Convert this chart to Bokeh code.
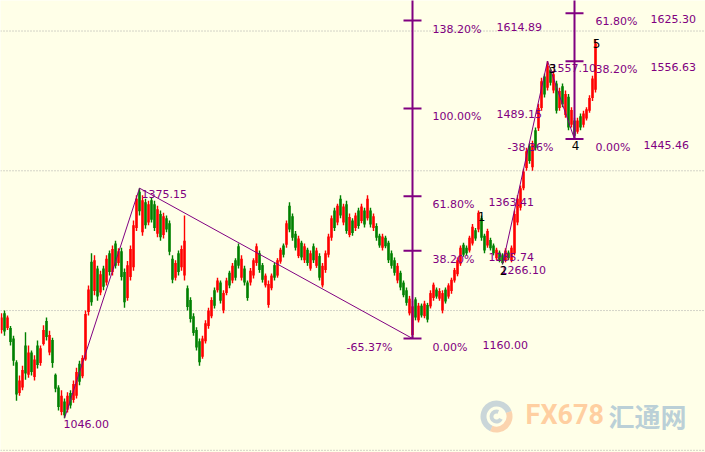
from bokeh.plotting import figure
from bokeh.models import Range1d, Span
from bokeh.core.properties import value
from bokeh.embed import file_html
from bokeh.resources import INLINE

# ---------------- data ----------------
opens = [1172, 1196, 1175, 1175, 1160, 1126, 1082, 1090, 1150, 1108,
         1140, 1105, 1150, 1125, 1152, 1185, 1140, 1158, 1108, 1090,
         1055, 1070, 1058, 1082, 1072, 1078, 1124, 1106, 1130, 1198,
         1270, 1228, 1260, 1226, 1260, 1240, 1282, 1255, 1296, 1268,
         1285, 1255, 1218, 1248, 1262, 1318, 1370, 1312, 1355, 1326,
         1358, 1352, 1310, 1338, 1308, 1332, 1325, 1274, 1247, 1282,
         1262, 1250, 1232, 1215, 1192, 1172, 1156, 1134, 1156, 1178,
         1192, 1229, 1229, 1240, 1200, 1225, 1254, 1243, 1272, 1292,
         1247, 1260, 1240, 1240, 1250, 1268, 1282, 1265, 1236, 1208,
         1232, 1265, 1250, 1270, 1293, 1294, 1350, 1335, 1310, 1278,
         1297, 1272, 1287, 1260, 1292, 1264, 1278, 1236, 1258, 1280,
         1304, 1343, 1326, 1360, 1326, 1352, 1308, 1329, 1318, 1343,
         1328, 1343, 1332, 1343, 1318, 1321, 1307, 1290, 1304, 1297,
         1282, 1272, 1243, 1254, 1240, 1229, 1196, 1165, 1216, 1186,
         1207, 1192, 1208, 1206, 1218, 1230, 1217, 1200, 1230, 1220,
         1228, 1243, 1252, 1267, 1294, 1290, 1286, 1296, 1315, 1316,
         1332, 1307, 1293, 1301, 1293, 1275, 1283, 1279, 1272, 1283,
         1272, 1282, 1326, 1347, 1375, 1404, 1435, 1405, 1458, 1461,
         1490, 1535, 1519, 1545, 1515, 1525, 1490, 1521, 1480, 1506,
         1466, 1472, 1456, 1478, 1466, 1475, 1486, 1504, 1516]
highs = [1196, 1200, 1193, 1178, 1164, 1129, 1107, 1121, 1169, 1150,
         1143, 1136, 1157, 1150, 1179, 1190, 1171, 1161, 1110, 1093,
         1086, 1074, 1083, 1086, 1100, 1118, 1128, 1136, 1200, 1236,
         1282, 1279, 1264, 1257, 1264, 1279, 1286, 1293, 1300, 1289,
         1290, 1260, 1271, 1293, 1329, 1365, 1375.15, 1365, 1360, 1357,
         1362, 1357, 1350, 1343, 1340, 1336, 1329, 1279, 1272, 1286,
         1293, 1336, 1236, 1219, 1196, 1176, 1160, 1164, 1186, 1204,
         1219, 1233, 1247, 1243, 1229, 1247, 1257, 1268, 1275, 1296,
         1279, 1264, 1243, 1261, 1275, 1296, 1286, 1268, 1253, 1243,
         1253, 1268, 1275, 1290, 1296, 1329, 1355, 1339, 1314, 1307,
         1300, 1296, 1290, 1286, 1296, 1290, 1282, 1268, 1286, 1310,
         1336, 1347, 1353, 1365, 1353, 1357, 1339, 1332, 1340, 1347,
         1353, 1347, 1365, 1347, 1339, 1325, 1310, 1310, 1307, 1300,
         1286, 1276, 1268, 1257, 1243, 1233, 1221, 1214, 1219, 1211,
         1210, 1214, 1211, 1229, 1240, 1233, 1232, 1229, 1233, 1239,
         1247, 1261, 1276, 1293, 1297, 1293, 1307, 1324, 1318, 1343,
         1336, 1310, 1317, 1304, 1296, 1290, 1286, 1282, 1289, 1286,
         1293, 1343, 1365, 1379, 1403, 1433, 1439, 1443, 1462, 1496,
         1533, 1539, 1557.10, 1548, 1543, 1529, 1519, 1525, 1515, 1510,
         1491, 1476, 1476, 1482, 1486, 1491, 1508, 1536, 1587]
lows = [1167, 1164, 1172, 1150, 1121, 1071, 1078, 1086, 1101, 1104,
        1107, 1100, 1117, 1121, 1150, 1157, 1136, 1118, 1083, 1057,
        1050, 1046.00, 1054, 1060, 1068, 1074, 1093, 1103, 1128, 1193,
        1207, 1222, 1214, 1222, 1229, 1236, 1250, 1250, 1260, 1264,
        1243, 1204, 1214, 1243, 1257, 1314, 1336, 1307, 1317, 1322,
        1326, 1314, 1305, 1300, 1303, 1312, 1279, 1239, 1243, 1250,
        1257, 1243, 1200, 1183, 1164, 1143, 1121, 1131, 1153, 1174,
        1189, 1203, 1226, 1210, 1196, 1222, 1232, 1239, 1243, 1260,
        1243, 1236, 1214, 1236, 1246, 1264, 1254, 1240, 1233, 1204,
        1229, 1243, 1247, 1267, 1276, 1290, 1312, 1300, 1286, 1275,
        1272, 1268, 1264, 1257, 1268, 1261, 1243, 1233, 1254, 1276,
        1300, 1314, 1322, 1332, 1322, 1310, 1305, 1307, 1314, 1317,
        1325, 1319, 1329, 1319, 1314, 1300, 1290, 1286, 1289, 1268,
        1260, 1250, 1239, 1229, 1219, 1207, 1193, 1160.00, 1186, 1183,
        1190, 1189, 1183, 1203, 1214, 1217, 1214, 1196, 1210, 1217,
        1224, 1240, 1249, 1264, 1277, 1279, 1283, 1293, 1300, 1312,
        1300, 1282, 1290, 1286, 1279, 1272, 1269, 1266.10, 1269, 1272,
        1269, 1279, 1322, 1343, 1372, 1400, 1410, 1400, 1429, 1457,
        1486, 1505, 1515, 1522, 1511, 1482, 1486, 1491, 1476, 1458,
        1462, 1445.46, 1453, 1458, 1462, 1472, 1483, 1500, 1512]
closes = [1190, 1170, 1190, 1155, 1128, 1080, 1100, 1115, 1110, 1140,
          1112, 1130, 1122, 1146, 1172, 1162, 1165, 1125, 1088, 1062,
          1078, 1050, 1078, 1064, 1095, 1112, 1098, 1132, 1195, 1230,
          1212, 1272, 1220, 1252, 1234, 1274, 1255, 1288, 1264, 1285,
          1248, 1212, 1265, 1288, 1322, 1360, 1342, 1358, 1322, 1352,
          1330, 1318, 1345, 1305, 1335, 1316, 1284, 1244, 1268, 1255,
          1288, 1300, 1205, 1188, 1168, 1147, 1126, 1160, 1182, 1200,
          1215, 1207, 1243, 1214, 1225, 1243, 1236, 1264, 1247, 1264,
          1274, 1240, 1218, 1257, 1272, 1292, 1258, 1244, 1250, 1238,
          1250, 1247, 1272, 1287, 1280, 1325, 1316, 1304, 1290, 1303,
          1276, 1292, 1268, 1282, 1272, 1286, 1247, 1264, 1282, 1306,
          1332, 1318, 1350, 1336, 1349, 1314, 1334, 1311, 1336, 1321,
          1349, 1323, 1360, 1323, 1335, 1304, 1293, 1306, 1292, 1272,
          1264, 1254, 1264, 1233, 1222, 1211, 1217, 1206, 1190, 1207,
          1193, 1210, 1187, 1225, 1237, 1220, 1228, 1225, 1213, 1236,
          1244, 1258, 1272, 1290, 1280, 1282, 1304, 1320, 1303, 1340,
          1304, 1286, 1314, 1289, 1282, 1287, 1272, 1268, 1286, 1275,
          1290, 1338, 1360, 1375, 1399, 1428, 1414, 1438, 1433, 1490,
          1528, 1509, 1550, 1526, 1538, 1486, 1514, 1495, 1510, 1462,
          1487, 1450, 1472, 1462, 1482, 1488, 1504, 1532, 1582]

# zigzag pivots (bar index, price)
wave_a_idx = [21, 46, 137]
wave_a_price = [1046.00, 1375.15, 1160.00]
wave_b_idx = [167, 182, 191]
wave_b_price = [1266.10, 1557.10, 1445.46]

# Fibonacci projection levels
fib_a_pct = ["0.00%", "38.20%", "61.80%", "100.00%", "138.20%"]
fib_a_price = [1160.00, 1285.74, 1363.41, 1489.15, 1614.89]
fib_b_pct = ["0.00%", "38.20%", "61.80%"]
fib_b_price = [1445.46, 1556.63, 1625.30]

# Elliott wave labels
wave_labels = ["1", "2", "3", "4", "5"]
wave_label_idx = [159, 167, 182, 191, 198]
wave_label_price = [1343, 1266.10, 1557.10, 1445.46, 1587]

grid_levels = [1000, 1200, 1400, 1600]

# ---------------- styling ----------------
BG = "#FFFFE8"
PURPLE = "#800080"
UP = "#FF0000"
DOWN = "#008000"
FONT = value("DejaVu Sans")

W, H = 705, 452
p = figure(width=W, height=H, output_backend="svg", toolbar_location=None,
           x_axis_location=None, y_axis_location=None,
           x_range=Range1d(-1 / 3, -1 / 3 + W / 3),
           y_range=Range1d(996.87, 1643.68),
           min_border=0, background_fill_color=BG, border_fill_color=BG)
p.outline_line_color = None
p.grid.visible = False

for g in grid_levels:
    p.add_layout(Span(location=g, dimension="width", line_color="#A8A8A8",
                      line_dash="1 2", line_width=1, level="underlay"))

idx = list(range(len(closes)))
colors = [UP if c >= o else DOWN for o, c in zip(opens, closes)]
tops = [max(o, c) for o, c in zip(opens, closes)]
bots = [min(o, c) for o, c in zip(opens, closes)]

p.segment(x0=idx, y0=lows, x1=idx, y1=highs, line_color=colors, line_width=1.4)
p.vbar(x=idx, width=0.85, top=tops, bottom=bots, fill_color=colors, line_color=None)

# zigzag lines
p.line(wave_a_idx, wave_a_price, line_color=PURPLE, line_width=1)
p.line(wave_b_idx, wave_b_price, line_color=PURPLE, line_width=1)

# fib tools
a_base = wave_a_idx[2]
b_base = wave_b_idx[2]
p.segment(x0=[a_base, b_base], y0=[fib_a_price[0], fib_b_price[0]],
          x1=[a_base, b_base], y1=[1700, 1700], line_color=PURPLE, line_width=2)
p.segment(x0=[a_base - 3] * len(fib_a_price), y0=fib_a_price,
          x1=[a_base + 3] * len(fib_a_price), y1=fib_a_price,
          line_color=PURPLE, line_width=2)
p.segment(x0=[b_base - 3] * len(fib_b_price), y0=fib_b_price,
          x1=[b_base + 3] * len(fib_b_price), y1=fib_b_price,
          line_color=PURPLE, line_width=2)

lab = dict(text_font=FONT, text_font_size="11px", text_color=PURPLE,
           text_baseline="top")
p.text(x=[a_base] * len(fib_a_pct), y=fib_a_price, text=fib_a_pct,
       x_offset=20, y_offset=2, text_align="left", **lab)
p.text(x=[a_base] * len(fib_a_pct), y=fib_a_price,
       text=["%.2f" % v for v in fib_a_price],
       x_offset=[70, 76, 76, 84, 84], y_offset=2, text_align="left", **lab)
p.text(x=[b_base] * len(fib_b_pct), y=fib_b_price, text=fib_b_pct,
       x_offset=21, y_offset=2, text_align="left", **lab)
p.text(x=[b_base] * len(fib_b_pct), y=fib_b_price,
       text=["%.2f" % v for v in fib_b_price],
       x_offset=[69, 76, 76], y_offset=2, text_align="left", **lab)

# retracement ratios
ra = (wave_a_price[1] - wave_a_price[2]) / (wave_a_price[1] - wave_a_price[0])
rb = (wave_b_price[1] - wave_b_price[2]) / (wave_b_price[1] - wave_b_price[0])
p.text(x=[a_base, b_base], y=[wave_a_price[2], wave_b_price[2]],
       text=["-%.2f%%" % (ra * 100), "-%.2f%%" % (rb * 100)],
       x_offset=[-20, -21], y_offset=2, text_align="right", **lab)

# pivot price labels
p.text(x=[wave_a_idx[0], wave_a_idx[1], wave_b_idx[0], wave_b_idx[1]],
       y=[wave_a_price[0], wave_a_price[1], wave_b_price[0], wave_b_price[1]],
       text=["%.2f" % v for v in [wave_a_price[0], wave_a_price[1],
                                   wave_b_price[0], wave_b_price[1]]],
       x_offset=[-1, 2, -2, 3], y_offset=[2, 2, 2, 3], text_align="left", **lab)

# wave numbers
p.text(x=wave_label_idx, y=wave_label_price, text=wave_labels,
       x_offset=[3, 1, 5, 1, 1], y_offset=[1, 2, 3, 2, -1],
       text_font=FONT, text_font_size="12px", text_color="#000000",
       text_align="center", text_baseline="top")

# watermark
wx, wy = 165, 1048.4
p.annular_wedge(x=[wx], y=[wy], inner_radius=10, outer_radius=16,
                inner_radius_units="screen", outer_radius_units="screen",
                start_angle=[0.35], end_angle=[4.3], fill_color="#9FB4CC",
                line_color=None, fill_alpha=0.55)
p.annular_wedge(x=[wx], y=[wy], inner_radius=10, outer_radius=16,
                inner_radius_units="screen", outer_radius_units="screen",
                start_angle=[4.3], end_angle=[6.63], fill_color="#F8B080",
                line_color=None, fill_alpha=0.55)
p.annular_wedge(x=[wx], y=[wy], inner_radius=3, outer_radius=7,
                inner_radius_units="screen", outer_radius_units="screen",
                start_angle=[1.2], end_angle=[5.8], fill_color="#9FB4CC",
                line_color=None, fill_alpha=0.55)
p.text(x=[174.7], y=[1051.2], text=["FX678"],
       text_font=value("Roboto"), text_font_style="bold",
       text_font_size="27px", text_color="#FFC08A", text_alpha=0.75,
       text_align="left", text_baseline="middle")
p.text(x=[202.3], y=[1050.0], text=["汇通网"],
       text_font=value("Noto Sans CJK SC"), text_font_style="bold",
       text_font_size="26px", text_color="#9DBCD0", text_alpha=0.7,
       text_align="left", text_baseline="middle")

open("out.html", "w").write(file_html(p, INLINE))
